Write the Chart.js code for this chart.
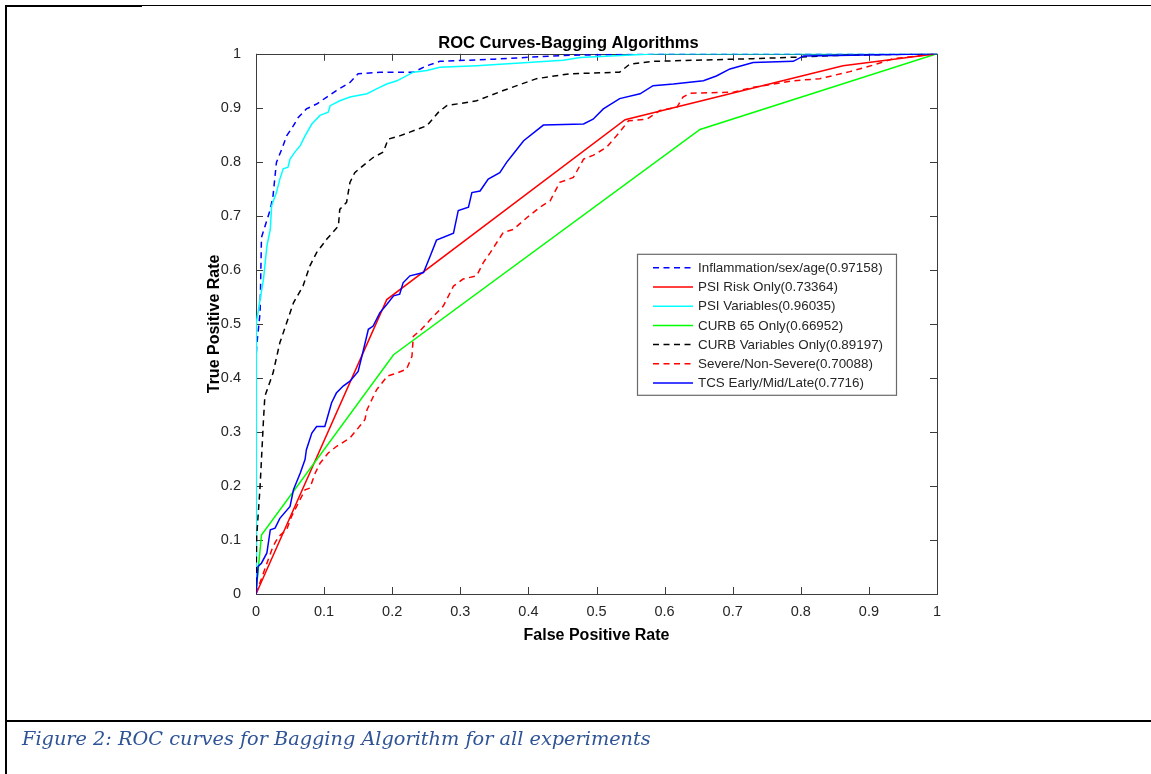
<!DOCTYPE html>
<html>
<head>
<meta charset="utf-8">
<title>ROC Curves-Bagging Algorithms</title>
<script src="https://cdn.jsdelivr.net/npm/chart.js@4.4.1/dist/chart.umd.min.js"></script>
<style>
  html, body { margin: 0; padding: 0; background: #fff; }
  #page { position: relative; width: 1151px; height: 774px; overflow: hidden; }
  #roc { position: absolute; left: 0; top: 0; }
  .rule { position: absolute; background: #000; }
  #caption {
    position: absolute; left: 22px; top: 727px;
    font-family: 'DejaVu Serif', 'Liberation Serif', serif;
    font-style: italic; font-size: 19.3px; color: #2f5496; white-space: nowrap;
  }
</style>
</head>
<body>
<div id="page">
  <canvas id="roc" width="1151" height="774"></canvas>
  <div class="rule" style="left:5px; top:5px; width:137px; height:2px;"></div>
  <div class="rule" style="left:142px; top:5px; width:1009px; height:1px;"></div>
  <div class="rule" style="left:5px; top:5px; width:2px; height:769px;"></div>
  <div class="rule" style="left:5px; top:720px; width:1146px; height:2px;"></div>
  <div id="caption">Figure 2: ROC curves for Bagging Algorithm for all experiments</div>
</div>
<script>
const chartTitle = 'ROC Curves-Bagging Algorithms';
const xTickLabels = ['0', '0.1', '0.2', '0.3', '0.4', '0.5', '0.6', '0.7', '0.8', '0.9', '1'];
const yTickLabels = ['0', '0.1', '0.2', '0.3', '0.4', '0.5', '0.6', '0.7', '0.8', '0.9', '1'];

const seriesNames = [
    'Inflammation/sex/age(0.97158)',
    'PSI Risk Only(0.73364)',
    'PSI Variables(0.96035)',
    'CURB 65 Only(0.66952)',
    'CURB Variables Only(0.89197)',
    'Severe/Non-Severe(0.70088)',
    'TCS Early/Mid/Late(0.7716)'
];

// false positive rate / true positive rate for each curve
const inflamFpr = [0, 0, 0.001, 0.006, 0.008, 0.011, 0.021, 0.025, 0.030, 0.038, 0.045, 0.055, 0.062, 0.074, 0.089, 0.104, 0.118, 0.138, 0.150, 0.182, 0.231, 0.251, 0.270, 0.350, 0.451, 0.583, 1];
const inflamTpr = [0, 0.43, 0.459, 0.521, 0.66, 0.672, 0.712, 0.737, 0.799, 0.824, 0.848, 0.867, 0.882, 0.898, 0.907, 0.920, 0.932, 0.947, 0.963, 0.966, 0.966, 0.978, 0.986, 0.990, 0.997, 1, 1];

const psiRiskFpr = [0, 0.192, 0.542, 0.862, 1];
const psiRiskTpr = [0, 0.545, 0.878, 0.978, 1];

const psiVarFpr = [0, 0, 0.001, 0.011, 0.016, 0.021, 0.023, 0.030, 0.035, 0.040, 0.047, 0.050, 0.057, 0.065, 0.072, 0.082, 0.094, 0.106, 0.109, 0.123, 0.138, 0.163, 0.177, 0.192, 0.207, 0.231, 0.251, 0.270, 0.324, 0.451, 0.476, 0.588, 1];
const psiVarTpr = [0, 0.44, 0.503, 0.583, 0.644, 0.675, 0.719, 0.743, 0.768, 0.787, 0.790, 0.805, 0.818, 0.830, 0.848, 0.870, 0.886, 0.892, 0.904, 0.913, 0.920, 0.926, 0.935, 0.944, 0.950, 0.966, 0.969, 0.975, 0.978, 0.988, 0.993, 1, 1];

const curb65Fpr = [0, 0.008, 0.202, 0.652, 1];
const curb65Tpr = [0, 0.109, 0.443, 0.860, 1];

const curbVarFpr = [0, 0.001, 0.006, 0.011, 0.013, 0.025, 0.035, 0.045, 0.055, 0.069, 0.079, 0.089, 0.104, 0.121, 0.123, 0.133, 0.138, 0.145, 0.163, 0.172, 0.187, 0.194, 0.211, 0.226, 0.251, 0.268, 0.280, 0.324, 0.363, 0.412, 0.461, 0.534, 0.549, 0.583, 0.730, 0.799, 0.853, 0.994, 1];
const curbVarTpr = [0, 0.106, 0.199, 0.323, 0.366, 0.409, 0.465, 0.502, 0.539, 0.570, 0.607, 0.632, 0.657, 0.681, 0.712, 0.725, 0.762, 0.780, 0.799, 0.808, 0.818, 0.842, 0.848, 0.855, 0.867, 0.892, 0.904, 0.913, 0.932, 0.954, 0.963, 0.966, 0.981, 0.986, 0.991, 0.994, 0.997, 1, 1];

const severeFpr = [0, 0.016, 0.025, 0.033, 0.045, 0.052, 0.062, 0.072, 0.079, 0.087, 0.094, 0.106, 0.118, 0.138, 0.148, 0.160, 0.163, 0.177, 0.189, 0.192, 0.207, 0.221, 0.229, 0.231, 0.243, 0.256, 0.275, 0.290, 0.304, 0.324, 0.334, 0.344, 0.363, 0.378, 0.398, 0.417, 0.432, 0.446, 0.466, 0.481, 0.495, 0.515, 0.534, 0.547, 0.574, 0.593, 0.618, 0.627, 0.637, 0.701, 0.730, 0.760, 0.789, 0.828, 0.872, 0.906, 0.936, 1];
const severeTpr = [0, 0.057, 0.088, 0.106, 0.119, 0.143, 0.168, 0.193, 0.196, 0.224, 0.242, 0.261, 0.273, 0.289, 0.304, 0.323, 0.341, 0.378, 0.397, 0.403, 0.409, 0.416, 0.440, 0.477, 0.490, 0.508, 0.533, 0.570, 0.583, 0.589, 0.614, 0.632, 0.669, 0.675, 0.697, 0.716, 0.728, 0.762, 0.771, 0.805, 0.812, 0.827, 0.855, 0.876, 0.879, 0.895, 0.901, 0.920, 0.927, 0.929, 0.938, 0.944, 0.950, 0.954, 0.967, 0.979, 0.991, 1];

const tcsFpr = [0, 0.003, 0.008, 0.016, 0.021, 0.028, 0.035, 0.050, 0.055, 0.065, 0.072, 0.074, 0.082, 0.089, 0.101, 0.104, 0.111, 0.118, 0.128, 0.138, 0.150, 0.158, 0.165, 0.172, 0.182, 0.192, 0.202, 0.211, 0.216, 0.226, 0.246, 0.256, 0.265, 0.290, 0.297, 0.312, 0.317, 0.329, 0.341, 0.358, 0.368, 0.378, 0.393, 0.422, 0.481, 0.495, 0.510, 0.534, 0.564, 0.583, 0.613, 0.657, 0.676, 0.696, 0.730, 0.789, 0.804, 0.853, 1];
const tcsTpr = [0, 0.051, 0.057, 0.076, 0.119, 0.122, 0.140, 0.162, 0.193, 0.224, 0.249, 0.267, 0.298, 0.310, 0.310, 0.323, 0.354, 0.372, 0.385, 0.394, 0.412, 0.453, 0.490, 0.496, 0.521, 0.536, 0.552, 0.555, 0.576, 0.589, 0.595, 0.626, 0.655, 0.668, 0.710, 0.716, 0.743, 0.746, 0.768, 0.780, 0.799, 0.815, 0.839, 0.868, 0.870, 0.879, 0.898, 0.917, 0.926, 0.941, 0.944, 0.950, 0.959, 0.972, 0.984, 0.986, 0.996, 0.997, 1];

const seriesFpr = [inflamFpr, psiRiskFpr, psiVarFpr, curb65Fpr, curbVarFpr, severeFpr, tcsFpr];
const seriesTpr = [inflamTpr, psiRiskTpr, psiVarTpr, curb65Tpr, curbVarTpr, severeTpr, tcsTpr];
const seriesColors = ['#0000ff', '#ff0000', '#00ffff', '#00ff00', '#000000', '#ff0000', '#0000ff'];
const seriesDashed = [true, false, false, false, true, true, false];

const DASH = [6, 4.5];
const AXIS_COLOR = '#3c3c3c';
const TEXT_COLOR = '#262626';

Chart.defaults.font.family = "'Liberation Sans', Arial, Helvetica, sans-serif";
Chart.defaults.color = TEXT_COLOR;

function toPoints(xs, ys) {
    return xs.map((x, i) => ({ x: x, y: ys[i] }));
}

// MATLAB style box with inward ticks on all four sides
const axesBox = {
    id: 'axesBox',
    beforeDatasetsDraw(chart) {
        const { ctx, chartArea: a, scales } = chart;
        const len = 7;
        ctx.save();
        ctx.strokeStyle = AXIS_COLOR;
        ctx.lineWidth = 1;
        ctx.beginPath();
        scales.x.ticks.forEach(t => {
            const px = Math.round(scales.x.getPixelForValue(t.value)) + 0.5;
            ctx.moveTo(px, a.bottom); ctx.lineTo(px, a.bottom - len);
            ctx.moveTo(px, a.top); ctx.lineTo(px, a.top + len);
        });
        scales.y.ticks.forEach(t => {
            const py = Math.round(scales.y.getPixelForValue(t.value)) + 0.5;
            ctx.moveTo(a.left, py); ctx.lineTo(a.left + len, py);
            ctx.moveTo(a.right, py); ctx.lineTo(a.right - len, py);
        });
        ctx.stroke();
        ctx.strokeRect(Math.round(a.left) + 0.5, Math.round(a.top) + 0.5,
            Math.round(a.right - a.left), Math.round(a.bottom - a.top));
        ctx.restore();
    }
};

// legend box inside the axes, north-east of centre
const boxLegend = {
    id: 'boxLegend',
    afterDatasetsDraw(chart) {
        const { ctx, chartArea: a } = chart;
        const left = a.left + 381, top = a.top + 200;
        const w = 259, rowH = 19.2, h = 141;
        ctx.save();
        ctx.fillStyle = '#ffffff';
        ctx.fillRect(left, top, w, h);
        ctx.strokeStyle = '#6a6a6a';
        ctx.lineWidth = 1.2;
        ctx.strokeRect(left + 0.5, top + 0.5, w, h);
        ctx.font = "13.4px 'Liberation Sans', Arial, sans-serif";
        ctx.textBaseline = 'middle';
        chart.data.datasets.forEach((ds, i) => {
            const y = top + 14 + i * rowH;
            ctx.strokeStyle = ds.borderColor;
            ctx.lineWidth = 1.5;
            ctx.setLineDash(ds.borderDash || []);
            ctx.beginPath();
            ctx.moveTo(left + 16, y);
            ctx.lineTo(left + 56, y);
            ctx.stroke();
            ctx.setLineDash([]);
            ctx.fillStyle = TEXT_COLOR;
            ctx.fillText(ds.label, left + 61, y + 0.5);
        });
        ctx.restore();
    }
};

const datasets = seriesNames.map((name, i) => ({
    label: name,
    data: toPoints(seriesFpr[i], seriesTpr[i]),
    borderColor: seriesColors[i],
    borderWidth: 1.5,
    borderDash: seriesDashed[i] ? DASH : [],
    pointRadius: 0,
    tension: 0,
    fill: false,
    order: seriesNames.length - i
}));

new Chart(document.getElementById('roc').getContext('2d'), {
    type: 'line',
    data: { datasets: datasets },
    options: {
        responsive: false,
        animation: false,
        events: [],
        layout: { padding: { left: 200, right: 214, top: 34, bottom: 129 } },
        plugins: {
            legend: { display: false },
            tooltip: { enabled: false },
            title: {
                display: true,
                text: chartTitle,
                color: '#000',
                font: { size: 16.5, weight: 'bold' },
                padding: { top: 0, bottom: 0 }
            }
        },
        scales: {
            x: {
                type: 'linear',
                min: 0,
                max: 1,
                grid: { display: false },
                border: { display: false },
                ticks: {
                    stepSize: 0.1,
                    padding: 1,
                    maxRotation: 0,
                    font: { size: 14.5 },
                    callback: (v, i) => xTickLabels[i]
                },
                title: {
                    display: true,
                    text: 'False Positive Rate',
                    color: '#000',
                    font: { size: 16, weight: 'bold' },
                    padding: { top: 0, bottom: 0 }
                },
                afterFit: s => { s.height = 51; }
            },
            y: {
                type: 'linear',
                min: 0,
                max: 1,
                grid: { display: false },
                border: { display: false },
                ticks: {
                    stepSize: 0.1,
                    padding: 7,
                    font: { size: 14.5 },
                    callback: (v, i) => yTickLabels[i]
                },
                title: {
                    display: true,
                    text: 'True Positive Rate',
                    color: '#000',
                    font: { size: 16, weight: 'bold' },
                    padding: { top: 5, bottom: 0 }
                },
                afterFit: s => { s.width = 56; }
            }
        }
    },
    plugins: [axesBox, boxLegend]
});
</script>
</body>
</html>
